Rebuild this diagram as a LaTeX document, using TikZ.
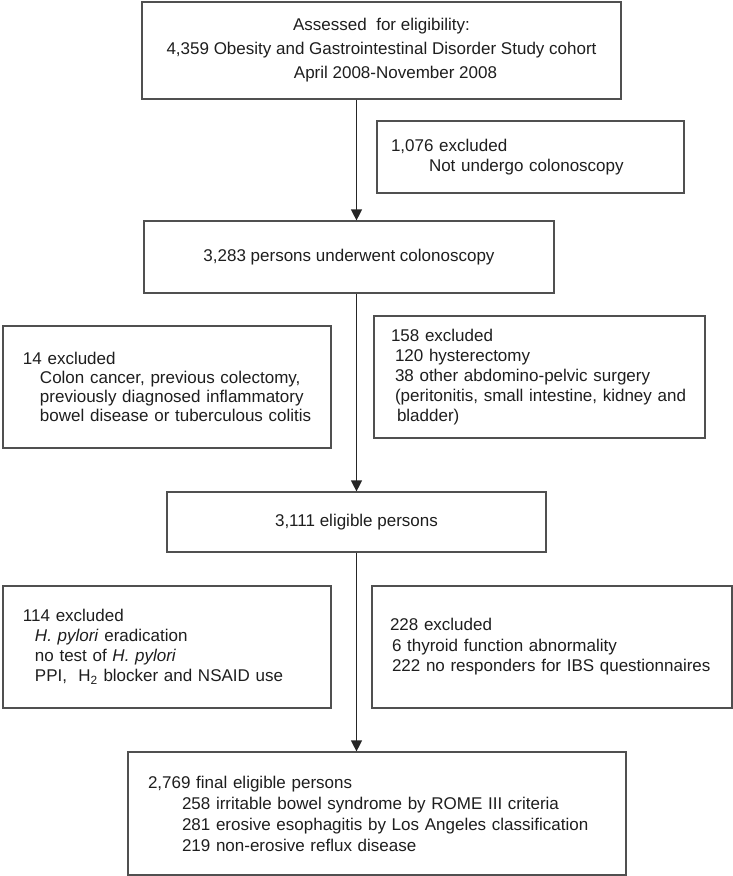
\documentclass[tikz,border=0pt]{standalone}
\usepackage{fontspec}
\setmainfont{Liberation Sans}
\usetikzlibrary{arrows.meta}
\definecolor{linegray}{HTML}{505050}
\definecolor{textgray}{HTML}{1E1E1E}
\newcommand{\oneln}[1]{\mbox{#1}}
\begin{document}
\begin{tikzpicture}[x=1pt,y=-1pt,
  box/.style={draw=linegray, line width=1.2pt, text=textgray, align=left,
              font=\fontsize{17}{20}\selectfont, inner ysep=0pt},
  arr/.style={draw=black!85, line width=1.2pt, -{Triangle[width=11pt,length=11pt]}}]
\useasboundingbox (0,0) rectangle (733,876);
\fill[white] (0,0) rectangle (733,876);

\node[box, align=center, minimum width=479pt, minimum height=97pt,
      font=\fontsize{17}{24}\selectfont] (b1) at (381.5,50.5)
  {Assessed\ \ for eligibility:\\4,359 Obesity and Gastrointestinal Disorder Study cohort\\\hspace*{28pt}April 2008-November 2008};

\node[box, text width=279pt, inner xsep=14pt, minimum height=72pt] (b2) at (530.5,157)
  {\oneln{1,076 excluded}\\\hspace*{38pt}\oneln{Not undergo colonoscopy}};

\node[box, align=center, minimum width=410pt, minimum height=72pt] (b3) at (349,257)
  {3,283 persons underwent colonoscopy};

\node[box, text width=288pt, inner xsep=20pt, minimum height=122pt,
      font=\fontsize{17}{19}\selectfont] (b4) at (167,387)
  {\oneln{14 excluded}\\
   \hspace*{17pt}\oneln{Colon cancer, previous colectomy,}\\
   \hspace*{17pt}\oneln{previously diagnosed inflammatory}\\
   \hspace*{17pt}\oneln{bowel disease or tuberculous colitis}};

\node[box, text width=297pt, inner xsep=17pt, minimum height=122pt] (b5) at (539.5,377)
  {\oneln{158 excluded}\\
   \hspace*{4pt}\oneln{120 hysterectomy}\\
   \hspace*{4pt}\oneln{38 other abdomino-pelvic surgery}\\
   \hspace*{4pt}\oneln{(peritonitis, small intestine, kidney and}\\
   \hspace*{6pt}\oneln{bladder)}};

\node[box, align=center, minimum width=379pt, minimum height=60pt] (b6) at (356.5,522)
  {3,111 eligible persons};

\node[box, text width=288pt, inner xsep=20pt, minimum height=122pt] (b7) at (167,647)
  {\oneln{114 excluded}\\
   \hspace*{12pt}\oneln{\textit{H. pylori} eradication}\\
   \hspace*{12pt}\oneln{no test of \textit{H. pylori}}\\
   \hspace*{12pt}\oneln{PPI,\ \ H\textsubscript{2} blocker and NSAID use}};

\node[box, text width=324pt, inner xsep=18pt, minimum height=122pt,
      font=\fontsize{17}{20.5}\selectfont] (b8) at (552,647)
  {\oneln{228 excluded}\\
   \hspace*{2pt}\oneln{6 thyroid function abnormality}\\
   \hspace*{2pt}\oneln{222 no responders for IBS questionnaires}};

\node[box, text width=458pt, inner xsep=20pt, minimum height=123pt,
      font=\fontsize{17}{21}\selectfont] (b9) at (377,813.5)
  {\oneln{2,769 final eligible persons}\\
   \hspace*{34pt}\oneln{258 irritable bowel syndrome by ROME III criteria}\\
   \hspace*{34pt}\oneln{281 erosive esophagitis by Los Angeles classification}\\
   \hspace*{34pt}\oneln{219 non-erosive reflux disease}};

\coordinate (ax) at (356.5,0);
\draw[arr] (b1.south -| ax) -- (b3.north -| ax);
\draw[arr] (b3.south -| ax) -- (b6.north -| ax);
\draw[arr] (b6.south -| ax) -- (b9.north -| ax);
\end{tikzpicture}
\end{document}
